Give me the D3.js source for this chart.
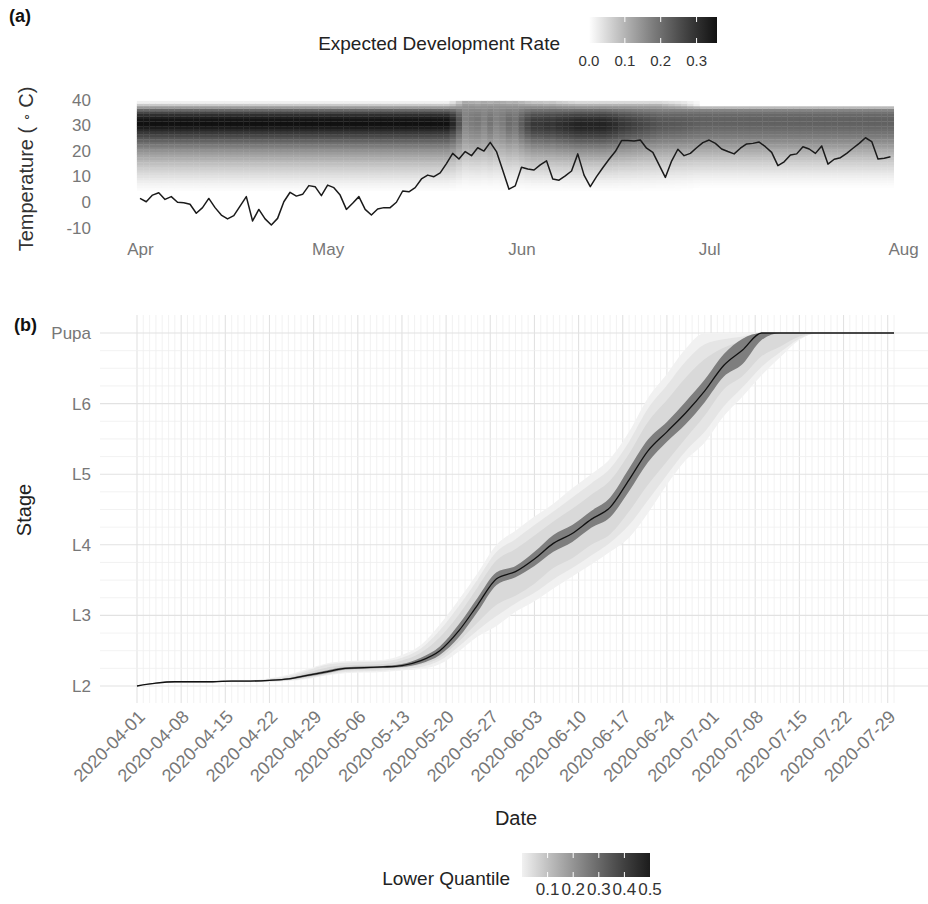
<!DOCTYPE html>
<html>
<head>
<meta charset="utf-8">
<script src="https://cdn.jsdelivr.net/npm/d3@7"></script>
<style>
body{margin:0;background:#fff;}
text{font-family:"Liberation Sans",Arial,sans-serif;}
</style>
</head>
<body>
<svg id="chart" width="928" height="904"></svg>
<script>
// ---- panel (a): daily mean temperature, 2020-04-01 .. 2020-07-30
var tempC = [1.4,0.1,2.7,3.6,1.0,2.1,-0.1,-0.3,-0.9,-4.4,
  -2.2,1.4,-2.2,-5.1,-6.6,-5.3,-1.6,2.1,-7.4,-2.9,
  -6.6,-9.0,-6.4,0.1,3.8,2.3,3.0,6.4,6.0,2.5,
  6.6,5.6,2.7,-2.9,-0.5,2.1,-2.9,-5.1,-2.7,-2.2,
  -2.2,-0.1,4.3,4.0,5.6,9.0,10.5,9.9,11.4,15.0,
  19.0,16.8,19.7,18.1,21.2,19.9,23.3,19.7,12.4,5.0,
  6.3,13.6,12.9,12.5,14.5,16.1,9.0,8.5,10.2,12.1,
  18.8,10.5,6.0,9.9,13.4,16.7,19.7,24.0,24.0,23.8,
  24.2,21.0,19.4,14.5,9.6,16.0,20.6,18.1,19.0,21.2,
  23.2,24.2,22.9,20.7,19.7,18.8,21.0,22.7,22.9,23.4,
  21.6,19.4,14.2,15.7,18.4,18.8,21.6,20.7,19.0,21.9,
  14.8,16.7,17.3,19.0,21.0,22.9,25.1,23.6,16.8,17.1,17.7];

// temperature rows of the rate surface
var tempGrid = [5,6,7,8,9,10,11,12,13,14,15,16,17,18,19,20,21,22,23,24,25,26,27,28,29,30,31,32,33,34,35,36,37,38,39];

// development rate per stage over tempGrid
var rateL2 = [.005,.01,.015,.022,.03,.038,.046,.055,.064,.074,.084,.095,.107,.12,.134,.149,.165,.182,.2,.22,.241,.263,.287,.313,.338,.355,.357,.35,.333,.305,.265,.21,.14,.07,.02];
var rateL3 = [.002,.005,.008,.012,.017,.022,.028,.034,.041,.048,.056,.064,.072,.08,.088,.096,.104,.112,.12,.128,.136,.143,.15,.156,.161,.165,.168,.17,.17,.169,.166,.16,.15,.135,.115];
var rateL4 = [.004,.008,.013,.019,.026,.033,.041,.049,.058,.067,.077,.088,.099,.111,.124,.138,.152,.167,.183,.2,.218,.237,.256,.272,.283,.288,.287,.28,.268,.25,.226,.196,.16,.12,.08];
var rateL5 = [.004,.009,.014,.02,.027,.035,.043,.052,.062,.072,.083,.095,.108,.122,.137,.153,.17,.188,.207,.227,.248,.269,.29,.308,.32,.325,.322,.312,.295,.27,.238,.198,.15,.1,.05];
var rateL6 = [.003,.007,.011,.016,.022,.028,.035,.042,.05,.058,.067,.076,.086,.097,.108,.12,.132,.145,.158,.172,.186,.2,.214,.226,.235,.24,.24,.236,.228,.215,.197,.172,.14,.1,.05];
var ratePupa = [0,.003,.006,.01,.015,.021,.028,.035,.043,.051,.06,.069,.079,.09,.101,.112,.123,.135,.147,.159,.171,.183,.194,.204,.212,.218,.221,.221,.218,.21,.196,.168,.095,0,0];

// stage mix used for the rate surface on each day
var heatStage = [2,2,2,2,2,2,2,2,2,2, 2,2,2,2,2,2,2,2,2,2,
  2,2,2,2,2,2,2,2,2,2, 2,2,2,2,2,2,2,2,2,2,
  2,2,2,2,2,2,2,2,2,2,
  2.2,2.6,3,3.1,2.9,3,3.2,3,3.1,3.3,
  3.2,3.5,3.8,4,4,4.2,4.1,4.4,4.6,4.8,
  5,5,5,5,5,5.1,5.2,5.4,5.5,5.6,
  5.7,5.8,5.9,6,6.1,6.2,6.3,6.4,6.6,6.8,
  7,7,7,7,7,7,7,7,7,7, 7,7,7,7,7,7,7,7,7,7, 7,7,7,7,7,7,7,7,7,7, 7];

var monthLabels = ["Apr","May","Jun","Jul","Aug"];
var tempTicks = [-10,0,10,20,30,40];
var rateTicks = [0.0,0.1,0.2,0.3];

// ---- panel (b): simulated stage, sampled every 3 days
var stageDays = [0,3,6,9,12,15,18,21,24,27,30,33,36,39,42,45,48,51,54,57,60,63,66,69,72,75,78,81,84,87,90,93,96,99,102,105,108,111,114,117,120];
var stageMedian = [2.00,2.04,2.06,2.06,2.06,2.07,2.07,2.08,2.10,2.15,2.20,2.25,2.26,2.27,2.29,2.36,2.50,2.78,3.15,3.52,3.62,3.80,4.02,4.16,4.36,4.53,4.92,5.33,5.60,5.87,6.18,6.54,6.76,7,7,7,7,7,7,7,7];
var q000Lo = [2.00,2.03,2.05,2.05,2.05,2.06,2.06,2.06,2.07,2.10,2.15,2.18,2.19,2.20,2.22,2.24,2.31,2.49,2.70,2.85,3.05,3.20,3.38,3.55,3.72,3.90,4.10,4.45,4.85,5.20,5.45,5.82,6.10,6.40,6.66,6.90,7,7,7,7,7];
var q000Hi = [2.00,2.05,2.07,2.07,2.07,2.08,2.08,2.11,2.16,2.24,2.32,2.35,2.36,2.37,2.44,2.58,2.87,3.22,3.60,4.00,4.20,4.40,4.58,4.80,5.00,5.22,5.60,6.08,6.42,6.78,7,7,7,7,7,7,7,7,7,7,7];
var q025Lo = [2.00,2.03,2.05,2.05,2.05,2.06,2.06,2.06,2.08,2.11,2.16,2.20,2.21,2.22,2.24,2.27,2.36,2.56,2.79,2.99,3.17,3.32,3.51,3.67,3.85,4.03,4.28,4.63,4.99,5.33,5.60,5.96,6.23,6.52,6.73,6.92,7,7,7,7,7];
var q025Hi = [2.00,2.05,2.07,2.07,2.07,2.08,2.08,2.10,2.14,2.22,2.30,2.33,2.34,2.35,2.40,2.53,2.79,3.13,3.51,3.90,4.08,4.28,4.47,4.67,4.87,5.08,5.46,5.93,6.26,6.60,6.84,6.91,6.95,7,7,7,7,7,7,7,7];
var q050Lo = [2.00,2.035,2.05,2.05,2.05,2.06,2.06,2.07,2.08,2.12,2.17,2.22,2.23,2.24,2.26,2.30,2.40,2.63,2.90,3.15,3.28,3.45,3.67,3.81,4.00,4.15,4.47,4.85,5.18,5.51,5.83,6.20,6.39,6.67,6.81,6.95,7,7,7,7,7];
var q050Hi = [2.00,2.045,2.07,2.07,2.07,2.08,2.08,2.09,2.12,2.19,2.26,2.29,2.30,2.31,2.36,2.47,2.69,3.01,3.40,3.78,3.94,4.13,4.33,4.51,4.71,4.91,5.29,5.74,6.05,6.37,6.63,6.79,6.89,7,7,7,7,7,7,7,7];
var q250Lo = [2.00,2.035,2.052,2.052,2.052,2.062,2.062,2.072,2.09,2.135,2.18,2.235,2.245,2.255,2.27,2.32,2.44,2.69,3.05,3.43,3.54,3.70,3.90,4.04,4.24,4.39,4.76,5.17,5.46,5.71,6.02,6.38,6.56,6.90,7,7,7,7,7,7,7];
var q250Hi = [2.00,2.045,2.068,2.068,2.068,2.078,2.078,2.088,2.11,2.165,2.22,2.265,2.275,2.285,2.31,2.40,2.56,2.87,3.25,3.61,3.70,3.90,4.14,4.28,4.48,4.67,5.08,5.49,5.74,6.03,6.34,6.70,6.92,7,7,7,7,7,7,7,7];
var bandLevels = [0, 0.025, 0.05, 0.25];
var stageLabels = ["L2","L3","L4","L5","L6","Pupa"];
var quantTicks = [0.1,0.2,0.3,0.4,0.5];

var svg = d3.select("#chart");
svg.append("rect").attr("width", 928).attr("height", 904).attr("fill", "#fff");

var day0 = new Date(Date.UTC(2020,3,1));
function dayDate(i){ return d3.utcDay.offset(day0, i); }
function dayShift(i, h){ return d3.utcHour.offset(dayDate(i), h); }

// ================= panel (a)
var xTop = d3.scaleUtc().domain([day0, new Date(Date.UTC(2020,7,1))]).range([140, 903]);
var yTop = d3.scaleLinear().domain([-10, 40]).range([227.6, 99.6]);
var rateMax = 0.357;
var rateColor = d3.scaleLinear().domain([0, rateMax]).range(["#ffffff", "#111111"]).interpolate(d3.interpolateLab);
var profiles = {2: rateL2, 3: rateL3, 4: rateL4, 5: rateL5, 6: rateL6, 7: ratePupa};

var heat = svg.append("g");
heatStage.forEach(function(s, i){
  var lo = Math.floor(s), f = s - lo;
  var pa = profiles[lo], pb = profiles[Math.min(lo + 1, 7)];
  var x0 = xTop(dayShift(i, -12)), x1 = xTop(dayShift(i, 12));
  tempGrid.forEach(function(t, j){
    var r = pa[j] * (1 - f) + pb[j] * f;
    heat.append("rect")
      .attr("x", x0).attr("width", x1 - x0 + 0.4)
      .attr("y", yTop(t + 0.5)).attr("height", yTop(t - 0.5) - yTop(t + 0.5) + 0.3)
      .attr("fill", rateColor(r));
  });
});

svg.append("path").datum(tempC)
  .attr("fill", "none").attr("stroke", "#1a1a1a").attr("stroke-width", 1.5)
  .attr("stroke-linejoin", "round")
  .attr("d", d3.line().x(function(d, i){ return xTop(dayDate(i)); }).y(function(d){ return yTop(d); }));

var monthDates = monthLabels.map(function(m, i){ return new Date(Date.UTC(2020, 3 + i, 1)); });
var axTopX = svg.append("g").attr("transform", "translate(0,243)")
  .call(d3.axisBottom(xTop).tickValues(monthDates).tickFormat(function(d, i){ return monthLabels[i]; }).tickSize(0).tickPadding(0));
axTopX.select(".domain").remove();
axTopX.selectAll("text").attr("font-size", 17).attr("fill", "#777").attr("font-family", "Liberation Sans, Arial, sans-serif");

var axTopY = svg.append("g").attr("transform", "translate(100,0)")
  .call(d3.axisLeft(yTop).tickValues(tempTicks).tickFormat(function(d){ return String(d); }).tickSize(0).tickPadding(9));
axTopY.select(".domain").remove();
axTopY.selectAll("text").attr("font-size", 17).attr("fill", "#777").attr("font-family", "Liberation Sans, Arial, sans-serif");

var tTitle = svg.append("text").attr("transform", "translate(33,169) rotate(-90)")
  .attr("text-anchor", "middle").attr("font-size", 20).attr("fill", "#333");
tTitle.append("tspan").text("Temperature ( ");
tTitle.append("tspan").attr("font-size", 13).attr("dy", -3).text("\u2218");
tTitle.append("tspan").attr("dy", 3).text(" C)");

svg.append("text").attr("x", 9).attr("y", 22).attr("font-size", 18).attr("font-weight", "bold").attr("fill", "#111").text("(a)");

// legend (a)
var defs = svg.append("defs");
function gradient(id, scale, lo, hi){
  var g = defs.append("linearGradient").attr("id", id);
  d3.range(0, 11).forEach(function(k){
    g.append("stop").attr("offset", (k * 10) + "%").attr("stop-color", scale(lo + (hi - lo) * k / 10));
  });
}
gradient("gRate", rateColor, 0, rateMax);
var legRate = d3.scaleLinear().domain([0, rateMax]).range([589, 717]);
svg.append("rect").attr("x", 589).attr("y", 17).attr("width", 128).attr("height", 26).attr("fill", "url(#gRate)");
rateTicks.forEach(function(v){
  if (v > 0) {
    svg.append("line").attr("x1", legRate(v)).attr("x2", legRate(v)).attr("y1", 17).attr("y2", 22).attr("stroke", "#fff");
    svg.append("line").attr("x1", legRate(v)).attr("x2", legRate(v)).attr("y1", 38).attr("y2", 43).attr("stroke", "#fff");
  }
  svg.append("text").attr("x", legRate(v)).attr("y", 66).attr("text-anchor", "middle")
    .attr("font-size", 15).attr("fill", "#333").text(d3.format(".1f")(v));
});
svg.append("text").attr("x", 560).attr("y", 50).attr("text-anchor", "end").attr("font-size", 19).attr("fill", "#222")
  .text("Expected Development Rate");

// ================= panel (b)
var xBot = d3.scaleUtc().domain([day0, dayDate(120)]).range([137, 894]);
var yBot = d3.scaleLinear().domain([2, 7]).range([686, 333]);
var grid = svg.append("g");
d3.range(0, 121).forEach(function(i){
  var major = i % 7 === 0;
  grid.append("line").attr("x1", xBot(dayDate(i))).attr("x2", xBot(dayDate(i)))
    .attr("y1", 315).attr("y2", 703)
    .attr("stroke", major ? "#e2e2e2" : "#efefef").attr("stroke-width", major ? 1.1 : 0.8);
});
d3.range(2, 7.01, 0.25).forEach(function(s){
  var major = Math.abs(s - Math.round(s)) < 1e-6;
  grid.append("line").attr("x1", 100).attr("x2", 928).attr("y1", yBot(s)).attr("y2", yBot(s))
    .attr("stroke", major ? "#e2e2e2" : "#efefef").attr("stroke-width", major ? 1.1 : 0.8);
});

var quantColor = d3.scaleLinear().domain([0, 0.5]).range(["#f1f1f1", "#1c1c1c"]).interpolate(d3.interpolateLab);
var bands = [[q000Lo, q000Hi], [q025Lo, q025Hi], [q050Lo, q050Hi], [q250Lo, q250Hi]];
bands.forEach(function(b, k){
  var area = d3.area().curve(d3.curveMonotoneX)
    .x(function(d){ return xBot(dayDate(d)); })
    .y0(function(d, i){ return yBot(b[0][i]); })
    .y1(function(d, i){ return yBot(b[1][i]); });
  svg.append("path").datum(stageDays).attr("fill", quantColor(bandLevels[k])).attr("d", area);
});
svg.append("path").datum(stageDays)
  .attr("fill", "none").attr("stroke", "#111").attr("stroke-width", 1.3)
  .attr("d", d3.line().curve(d3.curveMonotoneX)
    .x(function(d){ return xBot(dayDate(d)); })
    .y(function(d, i){ return yBot(stageMedian[i]); }));

var axBotY = svg.append("g").attr("transform", "translate(100,0)")
  .call(d3.axisLeft(yBot).tickValues([2,3,4,5,6,7]).tickFormat(function(d){ return stageLabels[d - 2]; }).tickSize(0).tickPadding(9));
axBotY.select(".domain").remove();
axBotY.selectAll("text").attr("font-size", 17).attr("fill", "#777").attr("font-family", "Liberation Sans, Arial, sans-serif");

var weekTicks = d3.range(0, 121, 7).map(dayDate);
var fmt = d3.utcFormat("%Y-%m-%d");
weekTicks.forEach(function(d){
  svg.append("text").attr("transform", "translate(" + (xBot(d) + 9) + ",718) rotate(-45)")
    .attr("text-anchor", "end").attr("font-size", 18).attr("fill", "#777").text(fmt(d));
});

svg.append("text").attr("x", 516).attr("y", 825).attr("text-anchor", "middle").attr("font-size", 20).attr("fill", "#222").text("Date");
svg.append("text").attr("transform", "translate(31,510) rotate(-90)").attr("text-anchor", "middle").attr("font-size", 20).attr("fill", "#222").text("Stage");
svg.append("text").attr("x", 14).attr("y", 331).attr("font-size", 18).attr("font-weight", "bold").attr("fill", "#111").text("(b)");

// legend (b)
gradient("gQuant", quantColor, 0, 0.5);
var legQ = d3.scaleLinear().domain([0, 0.5]).range([522, 650]);
svg.append("rect").attr("x", 522).attr("y", 853).attr("width", 128).attr("height", 24).attr("fill", "url(#gQuant)");
quantTicks.forEach(function(v){
  if (v < 0.5) {
    svg.append("line").attr("x1", legQ(v)).attr("x2", legQ(v)).attr("y1", 853).attr("y2", 858).attr("stroke", "#fff");
    svg.append("line").attr("x1", legQ(v)).attr("x2", legQ(v)).attr("y1", 872).attr("y2", 877).attr("stroke", "#fff");
  }
  svg.append("text").attr("x", legQ(v)).attr("y", 895).attr("text-anchor", "middle")
    .attr("font-size", 17).attr("fill", "#333").text(d3.format(".1f")(v));
});
svg.append("text").attr("x", 510).attr("y", 885).attr("text-anchor", "end").attr("font-size", 19).attr("fill", "#222").text("Lower Quantile");
</script>
</body>
</html>
